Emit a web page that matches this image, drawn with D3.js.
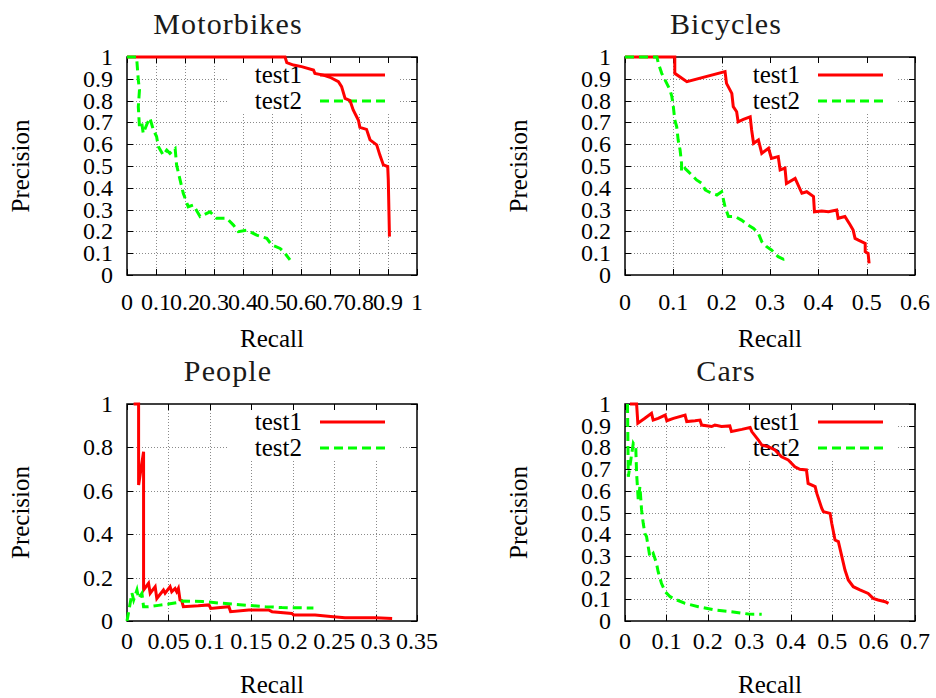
<!DOCTYPE html>
<html>
<head>
<meta charset="utf-8">
<script src="https://cdn.jsdelivr.net/npm/d3@7"></script>
<style>
  html, body { margin: 0; padding: 0; background: #fff; }
  svg { display: block; }
  svg text { font-family: "Liberation Serif", "Times New Roman", Times, "DejaVu Serif", serif; }
</style>
</head>
<body>
<svg id="chart" width="936" height="698"></svg>
<script>
// ---------------- DATA ----------------
const seriesNames = ["test1", "test2"];
const titles = ["Motorbikes", "Bicycles", "People", "Cars"];

// Motorbikes
const motoXTicks = [0, 0.1, 0.2, 0.3, 0.4, 0.5, 0.6, 0.7, 0.8, 0.9, 1];
const motoXLabels = ["0", "0.1", "0.2", "0.3", "0.4", "0.5", "0.6", "0.7", "0.8", "0.9", "1"];
const motoYTicks = [0, 0.1, 0.2, 0.3, 0.4, 0.5, 0.6, 0.7, 0.8, 0.9, 1];
const motoYLabels = ["0", "0.1", "0.2", "0.3", "0.4", "0.5", "0.6", "0.7", "0.8", "0.9", "1"];
const motoT1Recall = [0, 0.545, 0.551, 0.574, 0.602, 0.643, 0.648, 0.677, 0.70, 0.729, 0.74, 0.752, 0.769, 0.780, 0.798, 0.803, 0.826, 0.838, 0.861, 0.872, 0.884, 0.899, 0.901, 0.905];
const motoT1Prec   = [1, 1, 0.974, 0.963, 0.956, 0.94, 0.925, 0.917, 0.907, 0.887, 0.864, 0.81, 0.80, 0.757, 0.71, 0.677, 0.668, 0.62, 0.597, 0.55, 0.505, 0.497, 0.436, 0.176];
const motoT2Recall = [0, 0.033, 0.039, 0.043, 0.039, 0.043, 0.051, 0.056, 0.068, 0.079, 0.091, 0.102, 0.108, 0.125, 0.137, 0.148, 0.166, 0.171, 0.183, 0.194, 0.211, 0.229, 0.252, 0.286, 0.309, 0.344, 0.367, 0.384, 0.413, 0.447, 0.482, 0.499, 0.528, 0.545, 0.562];
const motoT2Prec   = [1, 1, 0.894, 0.849, 0.772, 0.68, 0.696, 0.65, 0.69, 0.72, 0.665, 0.635, 0.589, 0.55, 0.573, 0.558, 0.58, 0.505, 0.436, 0.375, 0.313, 0.321, 0.268, 0.29, 0.26, 0.26, 0.229, 0.199, 0.206, 0.183, 0.168, 0.138, 0.122, 0.099, 0.069];

// Bicycles
const bikeXTicks = [0, 0.1, 0.2, 0.3, 0.4, 0.5, 0.6];
const bikeXLabels = ["0", "0.1", "0.2", "0.3", "0.4", "0.5", "0.6"];
const bikeYTicks = motoYTicks;
const bikeYLabels = motoYLabels;
const bikeT1Recall = [0, 0.103, 0.103, 0.128, 0.207, 0.210, 0.221, 0.224, 0.231, 0.234, 0.245, 0.259, 0.262, 0.266, 0.276, 0.283, 0.297, 0.303, 0.317, 0.321, 0.331, 0.334, 0.352, 0.366, 0.376, 0.390, 0.392, 0.407, 0.421, 0.438, 0.441, 0.455, 0.466, 0.472, 0.476, 0.483, 0.497, 0.497, 0.503, 0.505];
const bikeT1Prec   = [1, 1, 0.925, 0.887, 0.933, 0.879, 0.833, 0.772, 0.749, 0.703, 0.714, 0.726, 0.665, 0.604, 0.619, 0.558, 0.581, 0.535, 0.543, 0.482, 0.49, 0.42, 0.443, 0.375, 0.382, 0.36, 0.29, 0.294, 0.29, 0.298, 0.26, 0.268, 0.229, 0.206, 0.168, 0.16, 0.145, 0.107, 0.099, 0.053];
const bikeT2Recall = [0, 0.066, 0.069, 0.076, 0.083, 0.093, 0.097, 0.100, 0.103, 0.107, 0.110, 0.114, 0.117, 0.117, 0.124, 0.131, 0.138, 0.148, 0.159, 0.166, 0.179, 0.190, 0.200, 0.207, 0.214, 0.228, 0.241, 0.255, 0.266, 0.276, 0.283, 0.293, 0.303, 0.317, 0.328, 0.338];
const bikeT2Prec   = [1, 1, 0.971, 0.925, 0.894, 0.849, 0.818, 0.772, 0.711, 0.68, 0.619, 0.573, 0.512, 0.474, 0.489, 0.474, 0.459, 0.436, 0.42, 0.39, 0.375, 0.367, 0.382, 0.313, 0.268, 0.268, 0.252, 0.229, 0.214, 0.191, 0.153, 0.13, 0.115, 0.084, 0.072, 0.076];

// People
const peopleXTicks = [0, 0.05, 0.1, 0.15, 0.2, 0.25, 0.3, 0.35];
const peopleXLabels = ["0", "0.05", "0.1", "0.15", "0.2", "0.25", "0.3", "0.35"];
const peopleYTicks = [0, 0.2, 0.4, 0.6, 0.8, 1];
const peopleYLabels = ["0", "0.2", "0.4", "0.6", "0.8", "1"];
const peopleT1Recall = [0.008, 0.014, 0.014, 0.020, 0.020, 0.026, 0.028, 0.034, 0.036, 0.044, 0.046, 0.052, 0.054, 0.058, 0.060, 0.062, 0.064, 0.066, 0.068, 0.086, 0.099, 0.101, 0.123, 0.125, 0.147, 0.171, 0.175, 0.199, 0.201, 0.227, 0.249, 0.263, 0.300, 0.320];
const peopleT1Prec   = [1, 1, 0.627, 0.78, 0.143, 0.174, 0.128, 0.158, 0.104, 0.143, 0.128, 0.158, 0.135, 0.15, 0.135, 0.15, 0.097, 0.094, 0.066, 0.07, 0.074, 0.058, 0.066, 0.043, 0.051, 0.051, 0.043, 0.035, 0.028, 0.028, 0.02, 0.015, 0.015, 0.012];
const peopleT2Recall = [0, 0.006, 0.008, 0.012, 0.014, 0.018, 0.020, 0.026, 0.038, 0.050, 0.062, 0.066, 0.091, 0.107, 0.127, 0.147, 0.167, 0.187, 0.225];
const peopleT2Prec   = [0, 0.128, 0.097, 0.143, 0.104, 0.128, 0.066, 0.066, 0.072, 0.078, 0.086, 0.092, 0.09, 0.084, 0.078, 0.072, 0.066, 0.062, 0.06];

// Cars
const carsXTicks = [0, 0.1, 0.2, 0.3, 0.4, 0.5, 0.6, 0.7];
const carsXLabels = ["0", "0.1", "0.2", "0.3", "0.4", "0.5", "0.6", "0.7"];
const carsYTicks = motoYTicks;
const carsYLabels = motoYLabels;
const carsT1Recall = [0.012, 0.028, 0.031, 0.048, 0.064, 0.068, 0.080, 0.097, 0.101, 0.117, 0.145, 0.149, 0.169, 0.181, 0.185, 0.209, 0.217, 0.233, 0.253, 0.257, 0.282, 0.302, 0.306, 0.322, 0.330, 0.346, 0.362, 0.378, 0.394, 0.410, 0.422, 0.438, 0.442, 0.459, 0.463, 0.475, 0.479, 0.495, 0.499, 0.507, 0.515, 0.531, 0.539, 0.551, 0.567, 0.587, 0.599, 0.611, 0.628, 0.636];
const carsT1Prec   = [1, 1, 0.911, 0.934, 0.957, 0.926, 0.934, 0.949, 0.923, 0.934, 0.949, 0.919, 0.923, 0.926, 0.903, 0.896, 0.903, 0.896, 0.899, 0.873, 0.883, 0.892, 0.873, 0.834, 0.811, 0.803, 0.788, 0.757, 0.742, 0.711, 0.699, 0.696, 0.634, 0.619, 0.588, 0.519, 0.504, 0.496, 0.45, 0.373, 0.366, 0.235, 0.189, 0.158, 0.143, 0.127, 0.104, 0.097, 0.089, 0.081];
const carsT2Recall = [0.006, 0.008, 0.020, 0.026, 0.028, 0.032, 0.036, 0.040, 0.044, 0.048, 0.052, 0.056, 0.060, 0.068, 0.076, 0.080, 0.088, 0.097, 0.109, 0.125, 0.145, 0.177, 0.217, 0.257, 0.298, 0.330];
const carsT2Prec   = [1, 0.665, 0.819, 0.80, 0.68, 0.558, 0.619, 0.512, 0.45, 0.404, 0.389, 0.343, 0.296, 0.312, 0.266, 0.227, 0.174, 0.135, 0.112, 0.097, 0.081, 0.066, 0.051, 0.043, 0.032, 0.031];

// ---------------- LAYOUT ----------------
const panels = [
  { title: titles[0], left: 127, top: 57, w: 290, h: 218, xMax: 1, xTicks: motoXTicks, xLabels: motoXLabels, yTicks: motoYTicks, yLabels: motoYLabels,
    s1: [motoT1Recall, motoT1Prec], s2: [motoT2Recall, motoT2Prec], tickOff: 35 },
  { title: titles[1], left: 625, top: 57, w: 290, h: 218, xMax: 0.6, xTicks: bikeXTicks, xLabels: bikeXLabels, yTicks: bikeYTicks, yLabels: bikeYLabels,
    s1: [bikeT1Recall, bikeT1Prec], s2: [bikeT2Recall, bikeT2Prec], tickOff: 35 },
  { title: titles[2], left: 127, top: 404, w: 290, h: 217, xMax: 0.35, xTicks: peopleXTicks, xLabels: peopleXLabels, yTicks: peopleYTicks, yLabels: peopleYLabels,
    s1: [peopleT1Recall, peopleT1Prec], s2: [peopleT2Recall, peopleT2Prec], tickOff: 28 },
  { title: titles[3], left: 625, top: 404, w: 290, h: 217, xMax: 0.7, xTicks: carsXTicks, xLabels: carsXLabels, yTicks: carsYTicks, yLabels: carsYLabels,
    s1: [carsT1Recall, carsT1Prec], s2: [carsT2Recall, carsT2Prec], tickOff: 28 }
];

const svg = d3.select("#chart");
const colors = ["#ff0000", "#00ff00"];
const FS = 24;

panels.forEach(p => {
  const x = d3.scaleLinear().domain([0, p.xMax]).range([p.left, p.left + p.w]);
  const y = d3.scaleLinear().domain([0, 1]).range([p.top + p.h, p.top]);
  const g = svg.append("g");

  // grid
  const grid = g.append("g").attr("stroke", "#8a8a8a").attr("stroke-width", 1).attr("stroke-dasharray", "1,2");
  p.xTicks.slice(1, -1).forEach(t => {
    grid.append("line").attr("x1", Math.round(x(t)) + 0.5).attr("x2", Math.round(x(t)) + 0.5)
      .attr("y1", p.top).attr("y2", p.top + p.h);
  });
  p.yTicks.slice(1, -1).forEach(t => {
    grid.append("line").attr("y1", Math.round(y(t)) + 0.5).attr("y2", Math.round(y(t)) + 0.5)
      .attr("x1", p.left).attr("x2", p.left + p.w);
  });

  // legend background
  const R = p.left + p.w, T = p.top;
  g.append("rect").attr("x", R - 190).attr("y", T + 2).attr("width", 173).attr("height", 53).attr("fill", "#fff");

  // ticks (inward, mirrored)
  const tk = g.append("g").attr("stroke", "#000").attr("stroke-width", 1);
  p.xTicks.forEach(t => {
    const xx = Math.round(x(t)) + 0.5;
    tk.append("line").attr("x1", xx).attr("x2", xx).attr("y1", p.top + p.h).attr("y2", p.top + p.h - 6);
    tk.append("line").attr("x1", xx).attr("x2", xx).attr("y1", p.top).attr("y2", p.top + 6);
  });
  p.yTicks.forEach(t => {
    const yy = Math.round(y(t)) + 0.5;
    tk.append("line").attr("y1", yy).attr("y2", yy).attr("x1", p.left).attr("x2", p.left + 6);
    tk.append("line").attr("y1", yy).attr("y2", yy).attr("x1", R).attr("x2", R - 6);
  });

  // border
  g.append("rect").attr("x", p.left).attr("y", p.top).attr("width", p.w).attr("height", p.h)
    .attr("fill", "none").attr("stroke", "#000").attr("stroke-width", 1.5);

  // tick labels
  p.xTicks.forEach((t, i) => {
    g.append("text").attr("x", x(t)).attr("y", p.top + p.h + p.tickOff)
      .attr("text-anchor", "middle").attr("font-size", FS).text(p.xLabels[i]);
  });
  p.yTicks.forEach((t, i) => {
    g.append("text").attr("x", p.left - 14).attr("y", y(t) + 8)
      .attr("text-anchor", "end").attr("font-size", FS).text(p.yLabels[i]);
  });

  // axis labels
  g.append("text").attr("x", p.left + p.w / 2).attr("y", p.top + p.h + 72)
    .attr("text-anchor", "middle").attr("font-size", 25).text("Recall");
  g.append("text").attr("transform", `translate(${p.left - 98},${p.top + p.h / 2}) rotate(-90)`)
    .attr("text-anchor", "middle").attr("font-size", 25).text("Precision");

  // title
  g.append("text").attr("x", p.left + 101).attr("y", p.top - 23)
    .attr("text-anchor", "middle").attr("font-size", 30)
    .attr("letter-spacing", 1.1).attr("fill", "#1a1a1a").text(p.title);

  // legend
  [0, 1].forEach(k => {
    const ly = T + 18 + k * 26;
    g.append("text").attr("x", R - 115).attr("y", ly + 8).attr("text-anchor", "end")
      .attr("font-size", 25).text(seriesNames[k]);
    g.append("line").attr("x1", R - 97).attr("x2", R - 32).attr("y1", ly).attr("y2", ly)
      .attr("stroke", colors[k]).attr("stroke-width", 3)
      .attr("stroke-dasharray", k === 1 ? "9,5" : null);
  });

  // curves
  const line = d3.line().x(d => x(d[0])).y(d => y(d[1]));
  [p.s1, p.s2].forEach((s, k) => {
    const pts = s[0].map((r, i) => [r, s[1][i]]);
    g.append("path").datum(pts).attr("d", line).attr("fill", "none")
      .attr("stroke", colors[k]).attr("stroke-width", 3).attr("stroke-linejoin", "miter")
      .attr("stroke-dasharray", k === 1 ? "9,5" : null);
  });
});
</script>
</body>
</html>
